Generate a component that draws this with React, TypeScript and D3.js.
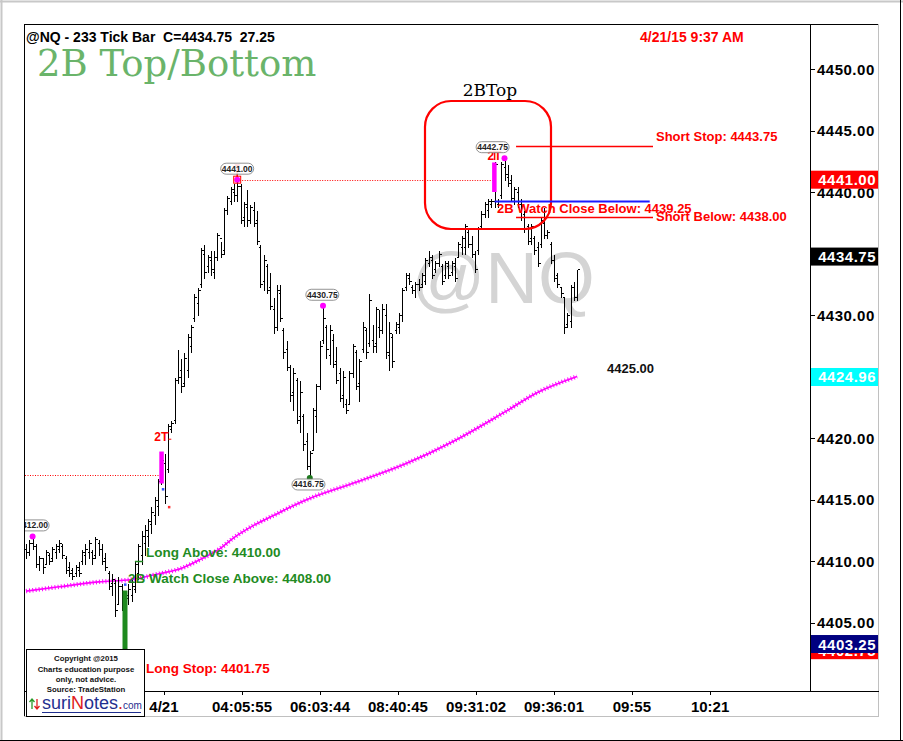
import React from "react";
import * as d3 from "d3";

// ---------- DATA ----------
const highs = [
  4411.5, 4411.75, 4412.0, 4411.5, 4410.5, 4410.25, 4411.0, 4410.75, 4411.25, 4411.5,
  4411.75, 4411.5, 4410.5, 4410.0, 4409.5, 4409.75, 4410.0, 4411.0, 4411.5, 4411.75,
  4411.0, 4412.0, 4411.75, 4411.5, 4410.75, 4409.25, 4409.0, 4408.5, 4408.75, 4408.25,
  4407.5, 4408.25, 4408.5, 4410.0, 4411.5, 4412.5, 4413.0, 4413.5, 4414.5, 4415.25,
  4416.75, 4418.75, 4418.75, 4421.25, 4421.5, 4425.0, 4427.25, 4426.5, 4427.0, 4428.5,
  4429.25, 4431.75, 4432.25, 4435.5, 4435.75, 4435.0, 4435.25, 4435.25, 4436.75, 4436.0,
  4438.75, 4439.75, 4440.5, 4440.75, 4441.0, 4440.75, 4439.25, 4440.25, 4439.0, 4439.25,
  4438.5, 4435.75, 4435.0, 4434.25, 4433.5, 4431.5, 4432.5, 4432.5, 4429.0, 4428.0,
  4426.0, 4425.75, 4425.0, 4424.75, 4422.0, 4420.5, 4419.0, 4422.5, 4424.5, 4428.0,
  4430.75, 4429.25, 4429.25, 4428.5, 4427.5, 4425.75, 4425.5, 4423.25, 4425.5, 4427.75,
  4427.25, 4426.5, 4429.5, 4429.0, 4431.75, 4429.25, 4430.75, 4430.5, 4431.0, 4431.0,
  4429.5, 4428.5, 4429.5, 4430.25, 4432.25, 4433.5, 4433.5, 4432.5, 4432.75, 4433.0,
  4433.5, 4434.75, 4435.25, 4435.0, 4434.5, 4435.25, 4434.25, 4434.5, 4434.5, 4434.5,
  4434.75, 4436.0, 4436.5, 4437.5, 4437.0, 4436.5, 4435.25, 4437.25, 4438.5, 4439.25,
  4439.5, 4439.5, 4442.5, 4439.5, 4442.5, 4442.75, 4442.25, 4441.5, 4440.5, 4440.5,
  4439.5, 4438.5, 4437.5, 4437.5, 4436.5, 4436.0, 4438.0, 4438.75, 4437.0, 4436.0,
  4435.0, 4433.5, 4432.25, 4431.5, 4430.25, 4432.5, 4432.75, 4433.75,
];
const lows = [
  4410.25, 4410.5, 4411.0, 4409.5, 4409.25, 4409.0, 4409.75, 4409.75, 4410.0, 4410.25,
  4410.75, 4410.25, 4409.0, 4408.75, 4408.5, 4408.75, 4408.75, 4409.75, 4409.75, 4410.25,
  4409.75, 4410.25, 4410.5, 4409.75, 4409.25, 4407.75, 4407.25, 4405.5, 4406.5, 4406.0,
  4402.75, 4406.5, 4406.75, 4407.5, 4408.5, 4409.75, 4410.5, 4411.25, 4412.25, 4413.0,
  4413.75, 4416.25, 4414.75, 4417.25, 4420.5, 4421.25, 4424.5, 4423.75, 4424.25, 4425.0,
  4427.0, 4429.5, 4430.0, 4432.25, 4433.0, 4433.5, 4433.25, 4433.0, 4434.5, 4434.75,
  4435.0, 4438.25, 4439.0, 4439.25, 4439.25, 4437.5, 4437.25, 4437.25, 4437.5, 4437.25,
  4435.75, 4432.25, 4432.0, 4431.75, 4430.5, 4428.5, 4428.75, 4429.5, 4426.5, 4425.5,
  4423.0, 4422.25, 4421.25, 4420.5, 4419.0, 4417.5, 4416.75, 4419.0, 4420.5, 4424.0,
  4427.75, 4426.5, 4426.0, 4425.75, 4424.5, 4423.0, 4422.5, 4422.0, 4422.75, 4425.0,
  4424.0, 4423.0, 4427.0, 4426.5, 4427.5, 4427.0, 4427.0, 4428.25, 4428.5, 4426.5,
  4425.5, 4425.75, 4428.5, 4428.5, 4429.5, 4432.0, 4432.5, 4431.75, 4431.5, 4432.0,
  4432.25, 4432.5, 4434.0, 4433.0, 4433.5, 4434.0, 4432.5, 4433.0, 4433.0, 4433.25,
  4432.75, 4434.75, 4435.0, 4435.0, 4435.5, 4434.75, 4433.5, 4435.0, 4437.0, 4438.0,
  4438.0, 4438.75, 4438.75, 4438.75, 4439.5, 4441.0, 4440.5, 4439.25, 4439.0, 4438.75,
  4437.75, 4436.75, 4435.75, 4435.75, 4435.0, 4434.0, 4435.5, 4436.25, 4436.25, 4434.25,
  4432.75, 4432.25, 4431.5, 4428.5, 4429.0, 4429.0, 4431.25, 4431.25,
];
const opens = [
  4411.0, 4410.75, 4411.5, 4411.25, 4409.75, 4410.25, 4409.75, 4410.5, 4410.25, 4410.75,
  4411.0, 4411.25, 4410.25, 4409.5, 4409.25, 4409.0, 4409.25, 4410.0, 4410.5, 4410.75,
  4410.75, 4410.5, 4411.5, 4411.0, 4410.25, 4409.0, 4408.25, 4408.25, 4406.5, 4408.0,
  4406.75, 4407.0, 4407.25, 4407.75, 4409.0, 4410.5, 4411.5, 4412.0, 4413.0, 4413.75,
  4414.5, 4416.5, 4418.0, 4417.5, 4420.75, 4421.5, 4424.75, 4425.5, 4424.5, 4425.5,
  4427.5, 4429.75, 4431.0, 4432.5, 4435.0, 4434.0, 4434.5, 4433.5, 4434.75, 4436.25,
  4435.25, 4438.5, 4439.25, 4440.0, 4439.75, 4440.5, 4438.0, 4438.75, 4437.75, 4438.5,
  4437.75, 4435.5, 4432.75, 4434.0, 4432.25, 4430.5, 4429.0, 4431.75, 4428.75, 4427.25,
  4425.75, 4423.75, 4424.75, 4421.75, 4421.75, 4419.75, 4417.75, 4419.0, 4421.75, 4424.25,
  4428.0, 4429.0, 4426.75, 4428.0, 4426.25, 4425.25, 4423.5, 4422.75, 4422.75, 4425.25,
  4427.0, 4424.5, 4427.25, 4428.75, 4427.75, 4428.0, 4427.75, 4429.0, 4428.75, 4430.0,
  4426.75, 4428.25, 4428.75, 4429.0, 4430.0, 4432.25, 4433.0, 4432.25, 4432.0, 4432.5,
  4432.5, 4432.75, 4434.25, 4434.5, 4433.75, 4434.25, 4434.0, 4433.25, 4434.0, 4433.5,
  4434.0, 4434.75, 4435.5, 4435.5, 4436.75, 4435.75, 4435.0, 4435.25, 4437.25, 4438.25,
  4438.5, 4439.0, 4439.25, 4439.0, 4439.75, 4442.0, 4441.25, 4441.0, 4439.5, 4440.0,
  4439.25, 4438.25, 4437.25, 4436.25, 4436.25, 4435.5, 4435.75, 4437.5, 4436.5, 4435.75,
  4434.5, 4433.25, 4432.25, 4431.5, 4429.25, 4429.5, 4432.25, 4431.5,
];
const closes = [
  4410.75, 4411.5, 4411.25, 4409.75, 4410.25, 4409.5, 4410.75, 4410.0, 4411.0, 4411.25,
  4411.5, 4410.5, 4409.25, 4409.0, 4408.75, 4409.5, 4409.0, 4410.75, 4411.0, 4411.5,
  4410.25, 4411.75, 4411.0, 4410.0, 4409.5, 4408.0, 4408.5, 4406.0, 4408.0, 4406.75,
  4407.25, 4407.75, 4408.0, 4409.75, 4411.25, 4412.0, 4412.5, 4413.25, 4414.0, 4415.0,
  4416.5, 4418.25, 4415.25, 4421.0, 4421.25, 4424.75, 4425.0, 4424.25, 4426.5, 4428.25,
  4429.0, 4431.5, 4432.0, 4435.25, 4433.5, 4434.75, 4433.75, 4434.75, 4436.5, 4435.0,
  4438.5, 4439.5, 4440.25, 4439.75, 4440.5, 4437.75, 4439.0, 4437.75, 4438.75, 4437.5,
  4436.0, 4432.5, 4434.5, 4432.0, 4430.75, 4429.0, 4432.0, 4429.75, 4427.0, 4425.75,
  4423.5, 4425.25, 4421.5, 4423.75, 4419.5, 4417.75, 4418.75, 4422.25, 4424.25, 4427.5,
  4429.75, 4427.25, 4428.75, 4426.0, 4424.75, 4423.25, 4425.0, 4422.25, 4425.25, 4427.5,
  4424.25, 4426.25, 4429.0, 4427.0, 4431.25, 4427.5, 4430.5, 4428.75, 4430.5, 4427.0,
  4428.5, 4426.25, 4429.25, 4430.0, 4432.0, 4433.25, 4432.75, 4432.0, 4432.5, 4432.25,
  4433.25, 4434.5, 4434.75, 4433.25, 4434.25, 4435.0, 4432.75, 4434.25, 4433.25, 4434.25,
  4433.0, 4435.75, 4436.25, 4437.25, 4435.75, 4435.0, 4433.75, 4437.0, 4438.25, 4439.0,
  4439.25, 4439.25, 4442.25, 4439.25, 4442.25, 4441.5, 4440.75, 4439.5, 4440.25, 4439.0,
  4438.0, 4437.0, 4436.0, 4437.25, 4435.25, 4434.25, 4437.75, 4436.5, 4436.75, 4434.5,
  4433.0, 4432.5, 4431.75, 4429.0, 4430.0, 4432.25, 4431.5, 4433.75,
];

// moving average read at a few bars
const maIndex = [0, 10, 22, 32, 41, 47, 53, 59, 63, 69, 75, 81, 87, 100, 115, 130, 145, 155, 167];
const maValue = [4407.55, 4407.9, 4408.3, 4408.5, 4409.0, 4409.4, 4410.15, 4411.05, 4411.9, 4412.9,
  4413.7, 4414.5, 4415.2, 4416.4, 4417.9, 4419.8, 4422.1, 4423.7, 4425.0];

const priceTicks = [4405, 4410, 4415, 4420, 4425, 4430, 4435, 4440, 4445, 4450];
const timeTickIndex = [41.8, 65.45, 89.1, 112.7, 136.4, 160.0, 183.6, 207.3];
const timeTickLabels = ["4/21", "04:05:55", "06:03:44", "08:40:45", "09:31:02", "09:36:01", "09:55", "10:21"];

// pivot labels [bar index, price], bubble shift in bars
const pivotIndex = [2, 64, 90, 86, 145];
const pivotPrice = [4412.0, 4441.0, 4430.75, 4416.75, 4442.75];
const pivotBelow = [false, false, false, true, false];
const pivotShift = [0, 0, -0.2, -0.4, -3.6];

// price-axis flags: value, text, fill
const flagValue = [4441.0, 4434.75, 4424.96, 4402.75, 4403.25];
const flagText = ["4441.00", "4434.75", "4424.96", "4402.75", "4403.25"];
const flagFill = ["#ff0000", "#000000", "#00ffff", "#ff0000", "#000080"];

const SANS = "'Liberation Sans', Arial, sans-serif";
const SERIF = "'DejaVu Serif', Georgia, serif";

export default function App() {
  const x = d3.scaleLinear().domain([0, 167]).range([26, 577.1]);
  const y = d3.scaleLinear().domain([4405, 4450]).range([622.5, 69]);
  const cx = (i: number) => Math.round(x(i)) + 0.5;
  const cy = (p: number) => Math.round(y(p)) + 0.5;

  const maPath = d3
    .line<number>()
    .x((_, k) => x(maIndex[k]))
    .y((d) => y(d))
    .curve(d3.curveMonotoneX)(maValue) as string;

  const RED = "#ff0000";
  const GREEN = "#228b22";

  return (
    <svg
      width={903}
      height={741}
      style={{ position: "absolute", left: 0, top: 0, background: "#fff" }}
      xmlns="http://www.w3.org/2000/svg"
    >
      <defs>
        <clipPath id="plot">
          <rect x={25} y={25} width={785} height={666} />
        </clipPath>
      </defs>
      <rect x={0} y={0} width={903} height={741} fill="#fff" />

      {/* window frame */}
      <line x1={0} y1={1.5} x2={903} y2={1.5} stroke="#c8c8c8" strokeWidth={2} />
      <line x1={1.5} y1={0} x2={1.5} y2={741} stroke="#c8c8c8" strokeWidth={2} />
      <line x1={900.5} y1={0} x2={900.5} y2={741} stroke="#000" />
      <line x1={0} y1={740.5} x2={903} y2={740.5} stroke="#000" />
      <line x1={24} y1={24.5} x2={879} y2={24.5} stroke="#000" />
      <line x1={24.5} y1={24} x2={24.5} y2={717} stroke="#000" />
      <line x1={878.5} y1={24} x2={878.5} y2={717} stroke="#c0c0c0" />
      <line x1={24} y1={716.5} x2={879} y2={716.5} stroke="#c0c0c0" />

      <g clipPath="url(#plot)">
        {/* watermark */}
        <text x={503} y={303} fontFamily={SANS} fontSize={73} fill="#d4d4d4" textAnchor="middle">
          @NQ
        </text>

        {/* dotted prior-high lines */}
        <line x1={25} x2={x(41)} y1={cy(4417.0)} y2={cy(4417.0)} stroke={RED} strokeDasharray="1 1.5" />
        <line x1={x(64)} x2={x(142)} y1={cy(4441.0)} y2={cy(4441.0)} stroke={RED} strokeDasharray="1 1.5" />

        {/* moving average */}
        <path d={maPath} fill="none" stroke="#ff00ff" strokeWidth={1.6} />
        <path d={maPath} fill="none" stroke="#ff00ff" strokeWidth={4.5} strokeDasharray="1 2.2" />

        {/* OHLC bars */}
        <g stroke="#000" strokeWidth={1} shapeRendering="crispEdges">
          {highs.map((h, i) => (
            <g key={i}>
              <line x1={cx(i)} x2={cx(i)} y1={cy(h)} y2={cy(lows[i]) + 0.5} />
              <line x1={cx(i) - 2} x2={cx(i)} y1={cy(opens[i])} y2={cy(opens[i])} />
              <line x1={cx(i)} x2={cx(i) + 2} y1={cy(closes[i])} y2={cy(closes[i])} />
            </g>
          ))}
        </g>

        {/* highlight bars */}
        <rect x={x(30) - 2.5} y={y(4407.6)} width={5} height={y(4402.8) - y(4407.6)} fill="#1e8a1e" />
        <rect x={x(41) - 2} y={y(4418.9)} width={4.5} height={y(4416.3) - y(4418.9)} fill="#ff00ff" />
        <rect x={x(142) - 2.5} y={y(4442.4)} width={4.5} height={y(4440.0) - y(4442.4)} fill="#ff00ff" />

        {/* small signal dots */}
        <rect x={x(30) - 1} y={y(4408.1) - 1} width={2.5} height={2.5} fill="#3050ff" />
        <rect x={x(41) + 0.5} y={y(4415.85) - 1} width={2.5} height={2.5} fill="#3050ff" />
        <rect x={x(43)} y={y(4414.4) - 1} width={2.5} height={2.5} fill="#ff3030" />
        <circle cx={x(30)} cy={y(4402.75)} r={2.5} fill="#1e7a1e" />

        {/* 2T markers */}
        <text x={x(41)} y={y(4419.5) - 3} fontFamily={SANS} fontWeight="bold" fontSize={12} fill={RED} textAnchor="middle">
          2T
        </text>
        <line x1={x(41) + 7} x2={x(41) + 10} y1={y(4419.9)} y2={y(4419.9)} stroke={RED} />
        <text x={x(142)} y={y(4442.5) - 1} fontFamily={SANS} fontWeight="bold" fontSize={12} fill={RED} textAnchor="middle">
          2T
        </text>
        <path d={`M${x(142) - 2},${y(4443.3)}H${x(142) + 2}M${x(142)},${y(4443.3)}V${y(4442.6)}`} stroke={RED} strokeWidth={1.5} fill="none" />
        <path d={`M${x(64) - 2.5},${y(4442.2)}H${x(64) + 2.5}M${x(64)},${y(4442.2)}V${y(4441)}`} stroke={RED} strokeWidth={1.5} fill="none" />

        {/* pivot dots */}
        {pivotIndex.map((pi, k) =>
          pivotBelow[k] ? (
            <circle key={k} cx={x(pi)} cy={y(pivotPrice[k])} r={3} fill="#1e7a1e" />
          ) : (
            <circle key={k} cx={x(pi)} cy={y(pivotPrice[k])} r={3} fill="#ff00ff" />
          )
        )}
        <rect x={x(64) - 3.5} y={y(4441) - 3.5} width={7} height={7} fill="none" stroke={RED} strokeWidth={1} />

        {/* pivot bubble labels */}
        {pivotIndex.map((pi, k) => {
          const bx = x(pi + pivotShift[k]);
          const by = pivotBelow[k] ? y(pivotPrice[k]) + 6.5 : y(pivotPrice[k]) - 11;
          return (
            <g key={"b" + k}>
              <rect x={bx - 16.5} y={by - 5.5} width={33} height={11} rx={5.5} fill="#fff" fillOpacity={0.85} stroke="#777" strokeWidth={0.8} />
              <text x={bx} y={by + 3} fontFamily={SANS} fontWeight="bold" fontSize={8.5} fill="#222" textAnchor="middle">
                {pivotPrice[k].toFixed(2)}
              </text>
            </g>
          );
        })}

        {/* 2B Top box */}
        <rect x={425} y={101} width={126} height={128} rx={26} fill="none" stroke={RED} strokeWidth={2.2} />
        <text x={490} y={96} fontFamily={SERIF} fontSize={17} fill="#000" textAnchor="middle">
          2BTop
        </text>

        {/* short levels */}
        <line x1={x(148.5)} x2={x(190)} y1={cy(4443.75)} y2={cy(4443.75)} stroke={RED} strokeWidth={1.5} />
        <line x1={x(142)} x2={x(189)} y1={cy(4439.25)} y2={cy(4439.25)} stroke="#1a1aff" strokeWidth={2} />
        <line x1={x(148.5)} x2={x(190)} y1={cy(4438.0)} y2={cy(4438.0)} stroke={RED} strokeWidth={1.5} />
        <text x={656} y={y(4443.75) - 4.5} fontFamily={SANS} fontWeight="bold" fontSize={13} fill={RED}>
          Short Stop: 4443.75
        </text>
        <text x={497} y={y(4439.25) + 12} fontFamily={SANS} fontWeight="bold" fontSize={13} fill={RED}>
          2B Watch Close Below: 4439.25
        </text>
        <text x={656} y={y(4438.0) + 4} fontFamily={SANS} fontWeight="bold" fontSize={13} fill={RED}>
          Short Below: 4438.00
        </text>

        {/* long levels */}
        <line x1={x(33)} x2={x(35.5)} y1={cy(4410.0)} y2={cy(4410.0)} stroke={GREEN} strokeWidth={1.5} />
        <text x={146} y={y(4410.0) - 4} fontFamily={SANS} fontWeight="bold" fontSize={13.5} fill={GREEN}>
          Long Above: 4410.00
        </text>
        <text x={128} y={y(4408.0) - 3} fontFamily={SANS} fontWeight="bold" fontSize={13.5} fill={GREEN}>
          2B Watch Close Above: 4408.00
        </text>
        <text x={146} y={673} fontFamily={SANS} fontWeight="bold" fontSize={13.5} fill={RED}>
          Long Stop: 4401.75
        </text>

        {/* MA value note */}
        <text x={607} y={y(4425.0) - 4} fontFamily={SANS} fontWeight="bold" fontSize={13} fill="#111">
          4425.00
        </text>
      </g>

      {/* header texts */}
      <text x={26} y={42} fontFamily={SANS} fontWeight="bold" fontSize={14} fill="#000" style={{ whiteSpace: "pre" }}>
        {"@NQ - 233 Tick Bar  C=4434.75  27.25"}
      </text>
      <text x={37} y={76} fontFamily={SERIF} fontSize={37} fill="#6ab46a">
        2B Top/Bottom
      </text>
      <text x={640} y={42} fontFamily={SANS} fontWeight="bold" fontSize={14} fill={RED}>
        4/21/15 9:37 AM
      </text>

      {/* price axis */}
      <line x1={810.5} y1={24} x2={810.5} y2={692} stroke="#000" />
      <line x1={24} y1={691.5} x2={879} y2={691.5} stroke="#000" />
      {priceTicks.map((p) => (
        <g key={p}>
          <line x1={810} x2={815} y1={cy(p)} y2={cy(p)} stroke="#000" />
          <text x={817} y={y(p) + 5.5} fontFamily={SANS} fontWeight="bold" fontSize={15} letterSpacing={0.5} fill="#000">
            {p.toFixed(2)}
          </text>
        </g>
      ))}
      {flagValue.map((v, k) => (
        <g key={"f" + k}>
          <rect x={811} y={y(v) - 9} width={67} height={18} fill={flagFill[k]} />
          <text x={876} y={y(v) + 5.5} fontFamily={SANS} fontWeight="bold" fontSize={15} letterSpacing={0.5} fill="#fff" textAnchor="end">
            {flagText[k]}
          </text>
        </g>
      ))}

      {/* time axis */}
      {timeTickIndex.map((t, k) => (
        <g key={"t" + k}>
          <line x1={cx(t)} x2={cx(t)} y1={691} y2={695} stroke="#000" />
          <text x={x(t)} y={712} fontFamily={SANS} fontWeight="bold" fontSize={15} fill="#000" textAnchor="middle">
            {timeTickLabels[k]}
          </text>
        </g>
      ))}

      {/* copyright box */}
      <rect x={26.5} y={649.5} width={118} height={67} fill="#fff" stroke="#000" />
      <g fontFamily={SANS} fontWeight="bold" fontSize={7.8} fill="#111" textAnchor="middle">
        <text x={86} y={661}>Copyright @2015</text>
        <text x={86} y={672}>Charts education purpose</text>
        <text x={86} y={682}>only, not advice.</text>
        <text x={86} y={692}>Source: TradeStation</text>
      </g>
      <path d="M32,709V699M29.5,702L32,699L34.5,702" stroke="#2a9a2a" strokeWidth={1.3} fill="none" />
      <path d="M37,699V709M34.5,706L37,709L39.5,706" stroke="#e02020" strokeWidth={1.3} fill="none" />
      <text x={42} y={709} fontFamily={SANS} fontSize={18} fill="#1f2f8f">
        suri<tspan fill="#e02020">N</tspan>otes<tspan fill="#e02020">.</tspan>
        <tspan fontSize={10}>com</tspan>
      </text>
      <line x1={42} x2={141} y1={712.5} y2={712.5} stroke="#1f2f8f" strokeWidth={1} />
    </svg>
  );
}
